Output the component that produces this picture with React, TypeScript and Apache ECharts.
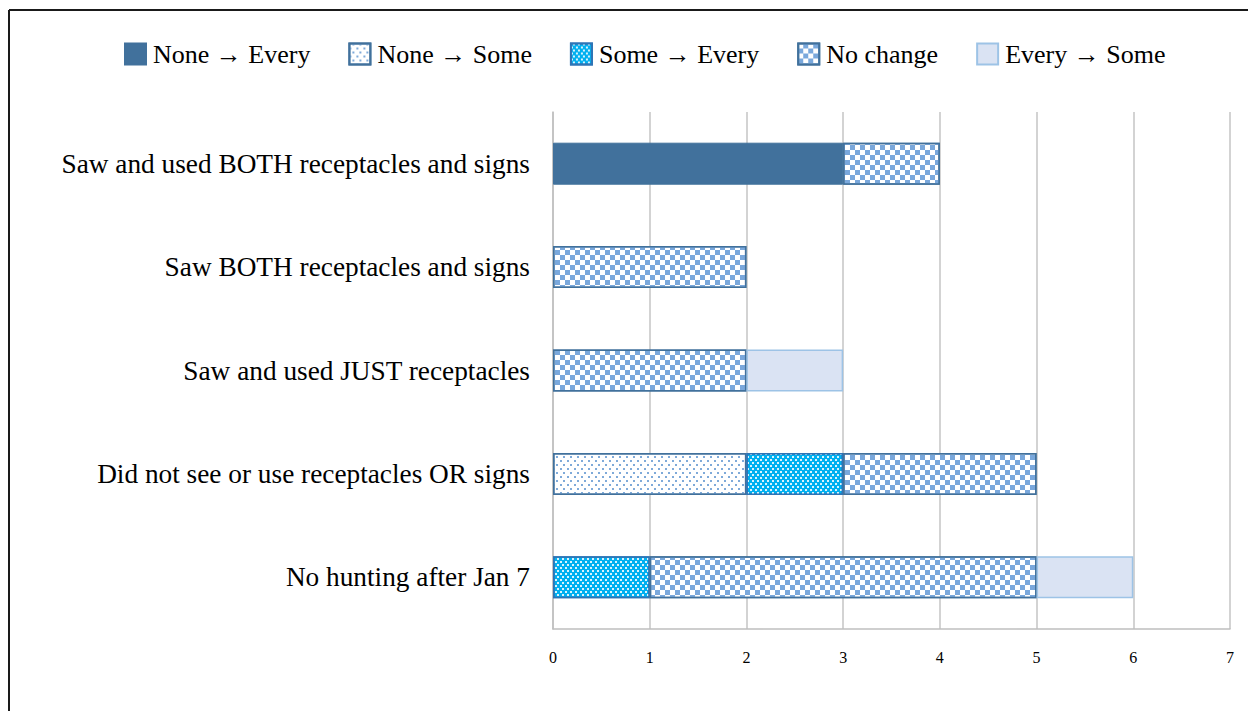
import React, { useEffect, useRef } from "react";
import * as echarts from "echarts";

const categories = [
  "Saw and used BOTH receptacles and signs",
  "Saw BOTH receptacles and signs",
  "Saw and used JUST receptacles",
  "Did not see or use receptacles OR signs",
  "No hunting after Jan 7",
];
const seriesNames = [
  "None \u2192 Every",
  "None \u2192 Some",
  "Some \u2192 Every",
  "No change",
  "Every \u2192 Some",
];
const noneToEvery = [3, null, null, null, null];
const noneToSome = [null, null, null, 2, null];
const someToEvery = [null, null, null, 1, 1];
const noChange = [1, 2, 2, 2, 4];
const everyToSome = [null, null, 1, null, 1];
const xTicks = [0, 1, 2, 3, 4, 5, 6, 7];

const FONT = "'Liberation Serif', 'Times New Roman', serif";

export default function App() {
  const ref = useRef<HTMLDivElement>(null);
  useEffect(() => {
    if (!ref.current) return;
    const chart = echarts.init(ref.current, null, { renderer: "svg" });
    const styles: any[] = [
      { color: "#41719C", borderColor: "#41719C", borderWidth: 1 },
      {
        color: "#ffffff",
        borderColor: "#41719C",
        borderWidth: 1.5,
        decal: {
          symbol: "rect",
          symbolSize: 1,
          color: "#7faad9",
          dashArrayX: [
            [1.5, 4.5],
            [0, 3, 1.5, 1.5],
          ],
          dashArrayY: [1.5, 2],
        },
      },
      {
        color: "#00B0F0",
        borderColor: "#2E75B6",
        borderWidth: 1.5,
        decal: {
          symbol: "rect",
          symbolSize: 1,
          color: "rgba(255,255,255,0.85)",
          dashArrayX: [
            [1.5, 2.5],
            [0, 2, 1.5, 0.5],
          ],
          dashArrayY: [1.5, 0.5],
        },
      },
      {
        color: "#ffffff",
        borderColor: "#41719C",
        borderWidth: 1.5,
        decal: {
          symbol: "rect",
          symbolSize: 1,
          color: "#7AA8DC",
          dashArrayX: [
            [5, 5],
            [0, 5, 5, 0],
          ],
          dashArrayY: [5, 0],
        },
      },
      { color: "#DAE3F3", borderColor: "#9DC3E6", borderWidth: 1.5 },
    ];
    const dataSets = [noneToEvery, noneToSome, someToEvery, noChange, everyToSome];
    chart.setOption({
      animation: false,
      backgroundColor: "#ffffff",
      textStyle: { fontFamily: FONT },
      graphic: [
        {
          type: "line",
          shape: { x1: 9, y1: 10, x2: 1248, y2: 10 },
          style: { stroke: "#1a1a1a", lineWidth: 2 },
        },
        {
          type: "line",
          shape: { x1: 9, y1: 10, x2: 9, y2: 711 },
          style: { stroke: "#1a1a1a", lineWidth: 2 },
        },
      ],
      legend: {
        top: 36,
        left: 119,
        itemWidth: 21,
        itemHeight: 21,
        itemGap: 38,
        icon: "rect",
        textStyle: {
          fontFamily: FONT,
          fontSize: 26,
          color: "#000",
          padding: [0, 0, 0, 2],
        },
        data: seriesNames,
      },
      grid: { left: 553, right: 18, top: 112, bottom: 82, containLabel: false },
      xAxis: {
        type: "value",
        min: xTicks[0],
        max: xTicks[xTicks.length - 1],
        interval: 1,
        axisLine: { show: true, lineStyle: { color: "#bfbfbf", width: 1.5 } },
        axisTick: { show: false },
        splitLine: { show: true, lineStyle: { color: "#c4c4c4", width: 1.5 } },
        axisLabel: {
          fontFamily: FONT,
          fontSize: 16,
          color: "#000",
          margin: 20,
        },
      },
      yAxis: {
        type: "category",
        inverse: true,
        data: categories,
        axisLine: { show: true, lineStyle: { color: "#bfbfbf", width: 1.5 } },
        axisTick: { show: false },
        axisLabel: {
          fontFamily: FONT,
          fontSize: 27.3,
          color: "#000",
          margin: 23,
        },
      },
      series: seriesNames.map((name, i) => ({
        name,
        type: "bar",
        stack: "total",
        barWidth: 42,
        data: dataSets[i],
        itemStyle: styles[i],
        emphasis: { disabled: true },
      })),
    });
    return () => chart.dispose();
  }, []);
  return (
    <div
      ref={ref}
      style={{ position: "absolute", left: 0, top: 0, width: 1248, height: 711 }}
    />
  );
}
